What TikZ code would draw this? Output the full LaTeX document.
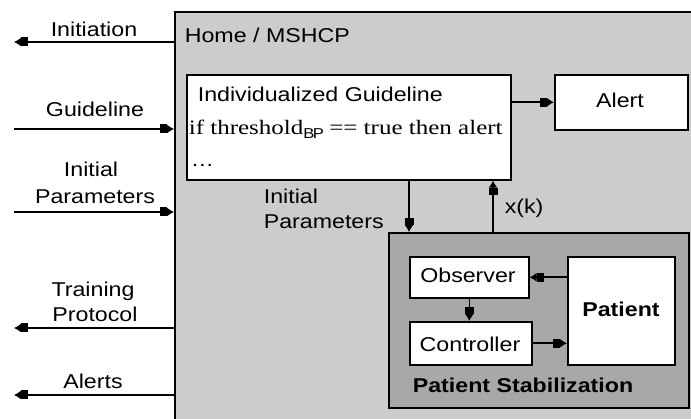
\documentclass[tikz,border=0pt]{standalone}
\usepackage{fontspec}
\setmainfont{Liberation Sans}[FakeStretch=1.16]
\newfontfamily\codefont{Liberation Serif}[FakeStretch=1.22]
\usetikzlibrary{arrows.meta}
\definecolor{homegray}{RGB}{204,204,204}
\definecolor{stabgray}{RGB}{168,168,168}

\begin{document}
\begin{tikzpicture}[x=1pt, y=-1pt, font=\fontsize{20}{26}\selectfont, line width=1.6pt]
  \tikzstyle{every node}+=[inner sep=0pt]
  \tikzstyle{blk}=[draw=black, fill=white, rectangle, anchor=north west]
  \tikzstyle{sig}=[-{Rectangle[length=7pt,width=9pt]Latex[length=7pt,width=9pt]}]
  \tikzstyle{lbl}=[anchor=base]
  \clip (0,0) rectangle (691,419);
  \fill [white] (0,0) rectangle (691,419);
  % outer system
  \node [blk, fill=homegray, minimum width=560pt, minimum height=440pt] (home) at (174,11) {};
  \node [lbl, anchor=base west] (hometext) at (184,43) {Home / MSHCP};
  \node [blk, minimum width=324pt, minimum height=105pt] (guide) at (186,74) {};
  \node [lbl, anchor=base west] (guidetitle) at (197,102) {Individualized Guideline};
  \node [lbl, anchor=base west] (guiderule) at (188,135) {\codefont\fontsize{20.5}{24}\selectfont if threshold$_{\mathrm{BP}}$ == true then alert};
  \node [lbl, anchor=base west] (guidedots) at (190,167) {\dots};
  \node [blk, minimum width=133pt, minimum height=55pt] (alert) at (554,74) {};
  \node [lbl] (alerttext) at (620,108) {Alert};
  % patient stabilization
  \node [blk, fill=stabgray, minimum width=300pt, minimum height=175pt] (stab) at (388,232) {};
  \node [blk, minimum width=119pt, minimum height=41pt] (observer) at (409,256) {};
  \node [lbl] (observertext) at (468,283) {Observer};
  \node [blk, minimum width=122pt, minimum height=43pt] (controller) at (409,321) {};
  \node [lbl] (controllertext) at (470,352) {Controller};
  \node [blk, minimum width=107pt, minimum height=108pt] (patient) at (567,256) {};
  \node [lbl, font=\fontsize{20}{26}\selectfont\bfseries] (patienttext) at (621,317) {Patient};
  \node [lbl, anchor=base west, font=\fontsize{20}{26}\selectfont\bfseries] (stabtext) at (412,393) {Patient Stabilization};
  % connectors inside
  \draw [sig] (guide.east |- alert.west) -- (alert.west);
  \draw [sig] (guide.south -| observer.west) -- (stab.north -| observer.west);
  \coordinate (xk) at (493,200);
  \draw [sig] (stab.north -| xk) -- (guide.south -| xk);
  \node [lbl, anchor=base west] (xktext) at (504,214) {x(k)};
  \node [lbl, anchor=base west] (inittext1) at (263,204) {Initial};
  \node [lbl, anchor=base west] (inittext2) at (263,229) {Parameters};
  \draw [sig] (patient.west |- observer.east) -- (observer.east);
  \draw [sig] (observer.south) -- (observer.south |- controller.north);
  \draw [sig] (controller.east) -- (patient.west |- controller.east);
  % signals to the outside
  \coordinate (initiation) at (14,42);
  \coordinate (guideline) at (14,129);
  \coordinate (parameters) at (14,212);
  \coordinate (training) at (14,328);
  \coordinate (alerts) at (14,395);
  \draw [sig] (home.west |- initiation) -- (initiation);
  \draw [sig] (guideline) -- (home.west |- guideline);
  \draw [sig] (parameters) -- (home.west |- parameters);
  \draw [sig] (home.west |- training) -- (training);
  \draw [sig] (home.west |- alerts) -- (alerts);
  \node [lbl] (initiationtext) at (94,37) {Initiation};
  \node [lbl] (guidelinetext) at (95,117) {Guideline};
  \node [lbl] (paramtext1) at (91,177) {Initial};
  \node [lbl] (paramtext2) at (95,204) {Parameters};
  \node [lbl] (trainingtext1) at (93,297) {Training};
  \node [lbl] (trainingtext2) at (95,322) {Protocol};
  \node [lbl] (alertstext) at (93,389) {Alerts};
\end{tikzpicture}
\end{document}
